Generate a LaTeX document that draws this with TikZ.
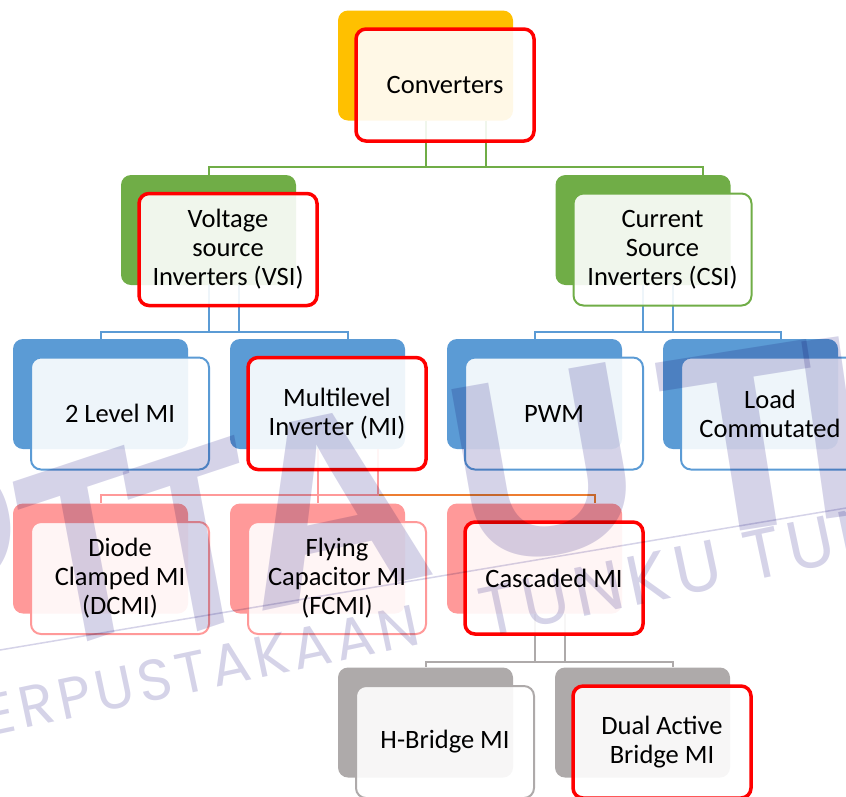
\documentclass[tikz,border=0pt]{standalone}
\usepackage{fontspec}
\setmainfont{Carlito}
\newfontfamily\wmbig{Liberation Sans}
\newfontfamily\wmsmall{Poppins}[LetterSpace=8]
\usepackage{xcolor}
\usepackage{tikz}
\definecolor{accOrange}{HTML}{FFC000}
\definecolor{accGreen}{HTML}{70AD47}
\definecolor{accBlue}{HTML}{5B9BD5}
\definecolor{accPink}{HTML}{FF9999}
\definecolor{accGray}{HTML}{AEAAAA}
\definecolor{lnOrange}{HTML}{ED7D31}
\definecolor{hlRed}{HTML}{FF0000}
\definecolor{wmColor}{RGB}{213,211,232}
\tikzstyle{back} = [rectangle, rounded corners=10pt, minimum width=175pt, minimum height=110pt, inner sep=0pt]
\tikzstyle{backorange} = [back, fill=accOrange]
\tikzstyle{backgreen} = [back, fill=accGreen]
\tikzstyle{backblue} = [back, fill=accBlue]
\tikzstyle{backpink} = [back, fill=accPink]
\tikzstyle{backgray} = [back, fill=accGray]
\tikzstyle{front} = [rectangle, rounded corners=10pt, minimum width=178pt, minimum height=112pt, inner sep=0pt, align=center, fill=white, fill opacity=0.9, text opacity=1, line width=2pt, font=\fontsize{26.5}{29}\selectfont]
\tikzstyle{frontred} = [front, draw=hlRed, line width=3.5pt]
\tikzstyle{frontgreen} = [front, draw=accGreen]
\tikzstyle{frontblue} = [front, draw=accBlue]
\tikzstyle{frontpink} = [front, draw=accPink]
\tikzstyle{frontgray} = [front, draw=accGray]
\tikzstyle{conn} = [line width=2pt]
\tikzstyle{greenline} = [conn, draw=accGreen]
\tikzstyle{blueline} = [conn, draw=accBlue]
\tikzstyle{pinkline} = [conn, draw=accPink]
\tikzstyle{orangeline} = [conn, draw=lnOrange]
\tikzstyle{grayline} = [conn, draw=accGray]
\tikzstyle{wmletter} = [inner sep=0pt, text=wmColor, font=\wmbig\bfseries\fontsize{260}{260}\selectfont]
\tikzstyle{wmtext} = [inner sep=0pt, text=wmColor, font=\wmsmall\fontsize{58}{58}\selectfont]
\tikzstyle{wmtextbig} = [inner sep=0pt, text=wmColor, font=\wmsmall\fontsize{70}{70}\selectfont]

\begin{document}
\begin{tikzpicture}[x=1pt, y=-1pt, node distance=27.6pt]

	\clip (0,0) rectangle (846,796);

	\node (convB) [backorange] at (425.5,65.5) {};
	\node (vsiB) [backgreen] at (208.5,230) {};
	\node (csiB) [backgreen] at (643,230) {};
	\node (twoB) [backblue] at (100.5,394) {};
	\node (mliB) [backblue] at (317.5,394) {};
	\node (pwmB) [backblue] at (534.5,394) {};
	\node (lcB) [backblue] at (750.5,394) {};
	\node (dcmiB) [backpink] at (100.5,558.5) {};
	\node (fcmiB) [backpink] at (317.5,558.5) {};
	\node (cascB) [backpink] at (534.5,558.5) {};
	\node (hbB) [backgray] at (425.5,722.5) {};
	\node (dabB) [backgray] at (642.5,722.5) {};

	\draw [greenline] ([xshift=60pt]convB.south) -- ++(0,46) -| (vsiB.north);
	\draw [greenline] (convB.south) -- ++(0,46) -| ([xshift=60pt]csiB.north);

	\draw [blueline] ([xshift=30pt]vsiB.south) -- ++(0,47) -| (twoB.north);
	\draw [blueline] (vsiB.south) -- ++(0,47) -| ([xshift=30pt]mliB.north);
	\draw [blueline] ([xshift=30pt]csiB.south) -- ++(0,47) -| (pwmB.north);
	\draw [blueline] (csiB.south) -- ++(0,47) -| ([xshift=30pt]lcB.north);

	\draw [orangeline] (mliB.south) -- ++(0,46) -| ([xshift=60pt]cascB.north);
	\draw [pinkline] ([xshift=60pt]mliB.south) -- ++(0,46) -| (dcmiB.north);
	\draw [pinkline] (mliB.south) -- (fcmiB.north);

	\draw [grayline] ([xshift=30pt]cascB.south) -- ++(0,48) -| (hbB.north);
	\draw [grayline] (cascB.south) -- ++(0,48) -| ([xshift=30pt]dabB.north);

	\node (conv) [frontred, below right of = convB] {Converters};
	\node (vsi) [frontred, below right of = vsiB] {Voltage\\source\\Inverters (VSI)};
	\node (csi) [frontgreen, below right of = csiB] {Current\\Source\\Inverters (CSI)};
	\node (two) [frontblue, below right of = twoB] {2 Level MI};
	\node (mli) [frontred, below right of = mliB] {Multilevel\\Inverter (MI)};
	\node (pwm) [frontblue, below right of = pwmB] {PWM};
	\node (lc) [frontblue, below right of = lcB] {Load\\Commutated};
	\node (dcmi) [frontpink, below right of = dcmiB] {Diode\\Clamped MI\\(DCMI)};
	\node (fcmi) [frontpink, below right of = fcmiB] {Flying\\Capacitor MI\\(FCMI)};
	\node (casc) [frontred, below right of = cascB] {Cascaded MI};
	\node (hb) [frontgray, below right of = hbB] {H-Bridge MI};
	\node (dab) [frontred, below right of = dabB] {Dual Active\\Bridge MI};

	% library watermark
	\begin{scope}[blend mode=multiply]
	\node (wmP) [wmletter, xscale=0.75, rotate=16] at (-40,565) {P};
	\node (wmT) [wmletter, xscale=0.75, rotate=14] at (85,550) {T};
	\node (wmTT) [wmletter, xscale=0.75, rotate=14] at (195,540) {T};
	\node (wmA) [wmletter, rotate=12] at (330,505) {A};
	\node (wmU) [wmletter, rotate=10] at (545,465) {U};
	\node (wmTh) [wmletter, rotate=9] at (745,440) {T};
	\node (wmH) [wmletter, rotate=8] at (890,420) {H};
	\draw [wmColor, line width=1.5pt] (0,650) -- (846,508);
	\node (wmLib) [wmtext, anchor=base west, rotate=12] at (-48,744) {PERPUSTAKAAN};
	\node (wmName) [wmtextbig, anchor=base west, rotate=12] at (485,638) {TUNKU TUN AMINAH};
	\end{scope}

\end{tikzpicture}
\end{document}
